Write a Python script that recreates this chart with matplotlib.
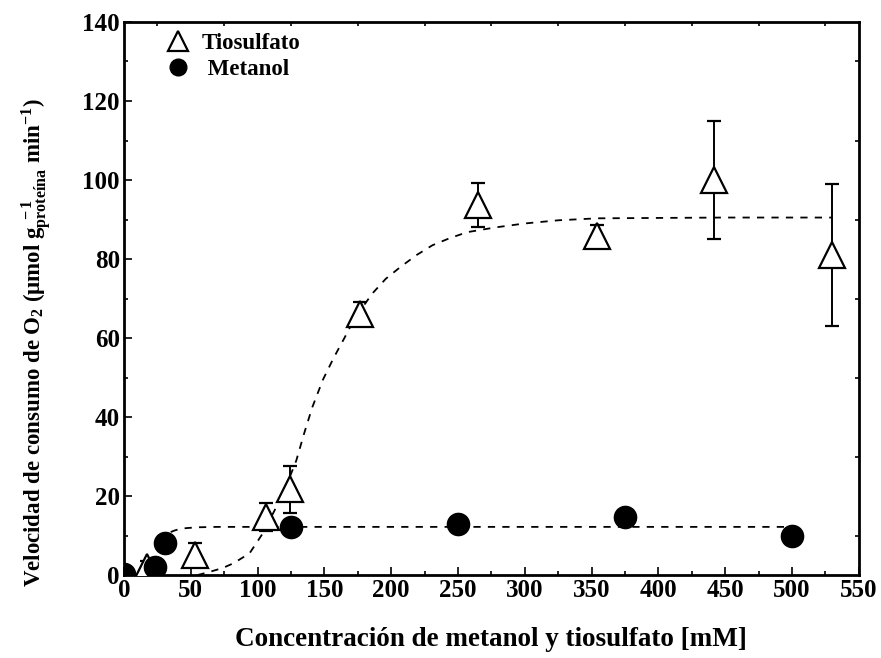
import numpy as np
import matplotlib
matplotlib.use("Agg")
import matplotlib.pyplot as plt
from matplotlib.ticker import MultipleLocator
from matplotlib.lines import Line2D

plt.rcParams['font.family'] = ['Liberation Serif', 'DejaVu Serif']
plt.rcParams['font.weight'] = 'bold'
plt.rcParams['mathtext.fontset'] = 'custom'
plt.rcParams['mathtext.rm'] = 'Liberation Serif:bold'
plt.rcParams['mathtext.it'] = 'Liberation Serif:bold'
plt.rcParams['mathtext.bf'] = 'Liberation Serif:bold'

# Tiosulfato (mean +/- error)
tio_x = [17, 53, 106, 124, 177, 265, 354, 442, 530]
tio_y = [2, 5, 14.7, 21.7, 66, 93.7, 85.8, 100, 81]
tio_err = [1.5, 3, 3.5, 6, 3, 5.5, 2.8, 15, 18]

# Metanol
met_x = [0, 23, 31, 125, 250, 375, 500]
met_y = [0.3, 2, 8, 12.2, 13, 14.6, 9.8]

# fitted curves
tio_fit_x = [55, 64, 74, 82, 94, 104, 114, 122, 129, 135, 141, 149, 157, 165, 172, 179, 186, 196,
             207, 219, 231, 244, 257, 278, 300, 325, 354, 400, 450, 530]
tio_fit_y = [0, 0.8, 1.8, 3, 5.5, 10.6, 17.2, 23, 29, 36, 42.5, 49.5, 55, 60, 64.5, 68, 71.3, 75,
             78, 81, 83.5, 85.3, 86.8, 88, 89, 89.8, 90.3, 90.4, 90.5, 90.5]
met_fit_x = [35, 38, 42, 47, 55, 70, 100, 200, 300, 400, 500]
met_fit_y = [10.9, 11.3, 11.7, 11.9, 12.1, 12.2, 12.2, 12.2, 12.2, 12.2, 12.2]

fig = plt.figure(figsize=(8.81, 6.58), dpi=100)
ax = fig.add_axes([0.1407, 0.126, 0.834, 0.8406])

ax.plot(tio_fit_x, tio_fit_y, 'k--', lw=1.3, dashes=(4, 4))
ax.plot(met_fit_x, met_fit_y, 'k--', lw=1.3, dashes=(4, 4))

ax.errorbar(tio_x, tio_y, yerr=tio_err, fmt='^', ms=19, mfc='white', mec='black',
            mew=1.6, ecolor='black', elinewidth=1.4, capsize=5, capthick=1.4, zorder=3)
ax.plot(met_x, met_y, 'o', ms=16, color='black', zorder=4)

ax.set_xlim(0, 550)
ax.set_ylim(0, 140)
ax.xaxis.set_major_locator(MultipleLocator(50))
ax.xaxis.set_minor_locator(MultipleLocator(25))
ax.yaxis.set_major_locator(MultipleLocator(20))
ax.yaxis.set_minor_locator(MultipleLocator(10))
ax.tick_params(which='both', direction='in', top=True, right=True, width=1.2)
ax.tick_params(which='major', length=6, labelsize=18, pad=3)
ax.tick_params(which='minor', length=3)
ax.tick_params(axis='x', which='major', top=False)
ax.tick_params(axis='y', which='major', right=False)
for s in ax.spines.values():
    s.set_linewidth(2)

ax.set_xlabel('Concentración de metanol y tiosulfato [mM]', fontsize=19.5,
              fontweight='bold', labelpad=18)
ax.set_ylabel(r'Velocidad de consumo de O$_2$ ($\mu$mol g$_{\mathregular{proteína}}^{\ -1}$ min$^{-1}$)',
              fontsize=16.5, fontweight='bold')
ax.yaxis.set_label_coords(-0.095, 0.42)

handles = [Line2D([], [], ls='none', marker='^', ms=14, mfc='white', mec='black', mew=1.6),
           Line2D([], [], ls='none', marker='o', ms=12, color='black')]
leg = ax.legend(handles, ['Tiosulfato', ' Metanol'], loc='upper left',
                bbox_to_anchor=(0.022, 1.018), frameon=False, fontsize=16.5,
                handletextpad=0.3, labelspacing=0.22, handlelength=1.5)
for t in leg.get_texts():
    t.set_fontweight('bold')

fig.savefig('out.png', dpi=100)
